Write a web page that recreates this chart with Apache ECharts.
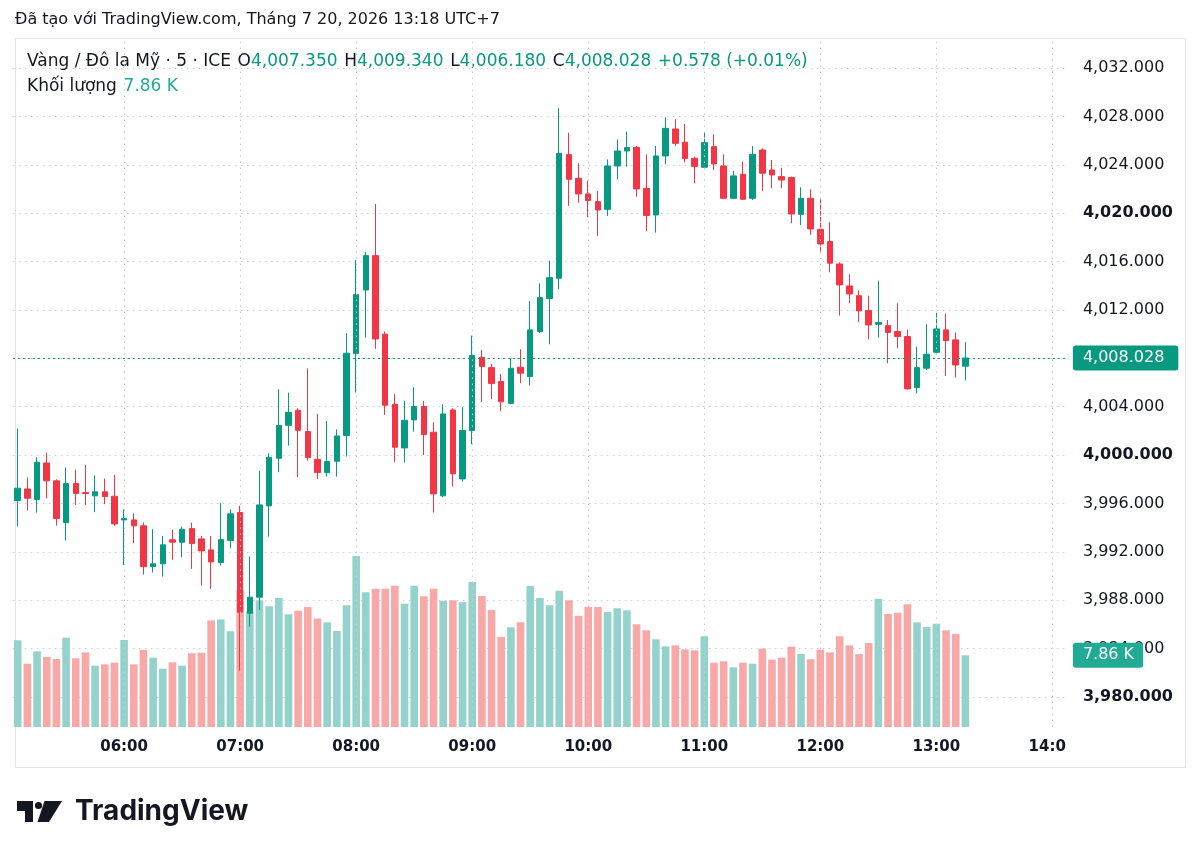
<!DOCTYPE html>
<html>
<head>
<meta charset="utf-8">
<title>Vàng / Đô la Mỹ · 5 · ICE</title>
<script src="https://cdn.jsdelivr.net/npm/echarts@6/dist/echarts.min.js"></script>
<style>
  html, body { margin: 0; padding: 0; background: #fff; }
  #chart { width: 1200px; height: 857px; }
</style>
</head>
<body>
<div id="chart"></div>
<script>
// 5 minute candles, 05:05 .. 13:15
const opens = [
  3996.24, 3997.2, 3996.32, 3999.35, 3997.87, 3994.42, 3997.65, 3996.9, 3996.63, 3996.96,
  3996.6, 3994.64, 3994.64, 3994.15, 3990.78, 3991.01, 3992.99, 3992.79, 3993.92, 3993.07,
  3992.16, 3991.11, 3992.93, 3995.25, 3986.93, 3988.25, 3995.8, 3999.74, 4002.46, 4003.7,
  4001.94, 3999.65, 3998.55, 3999.49, 4001.61, 4008.39, 4013.65, 4016.49, 4009.99, 4004.2,
  4000.59, 4002.91, 4004.01, 4001.89, 3996.63, 4003.73, 3998.03, 4002.03, 4008.09, 4007.23,
  4006.08, 4004.28, 4007.26, 4006.49, 4010.21, 4012.94, 4014.62, 4024.84, 4022.88, 4021.59,
  4020.95, 4020.32, 4023.9, 4025.14, 4025.44, 4022.05, 4019.85, 4024.73, 4026.96, 4025.86,
  4024.53, 4023.79, 4025.5, 4023.9, 4021.23, 4023.21, 4021.23, 4025.22, 4023.57, 4023.02,
  4022.94, 4019.9, 4021.23, 4018.67, 4017.65, 4015.8, 4013.98, 4013.18, 4011.94, 4010.81,
  4010.7, 4010.21, 4009.8, 4005.58, 4007.18, 4008.5, 4010.35, 4009.52, 4007.35
];
const closes = [
  3997.26, 3996.43, 3999.41, 3997.87, 3994.75, 3997.65, 3996.82, 3996.82, 3996.96, 3996.57,
  3994.31, 3994.75, 3994.15, 3990.78, 3991.01, 3992.58, 3992.8, 3993.87, 3992.68, 3992.08,
  3991.17, 3993.01, 3995.14, 3987.01, 3988.25, 3995.88, 3999.82, 4002.44, 4003.54, 4002.05,
  3999.79, 3998.55, 3999.46, 4001.58, 4008.42, 4013.27, 4016.49, 4009.6, 4004.12, 4000.65,
  4002.88, 4004.01, 4001.69, 3996.79, 4003.4, 3998.45, 4002.03, 4008.23, 4007.32, 4005.91,
  4004.4, 4007.18, 4006.77, 4010.35, 4013.02, 4014.67, 4024.95, 4022.8, 4021.59, 4021.04,
  4020.26, 4023.9, 4025.14, 4025.42, 4022.0, 4019.8, 4024.73, 4027.01, 4025.77, 4024.51,
  4023.85, 4025.83, 4024.07, 4021.23, 4023.08, 4021.15, 4024.87, 4023.3, 4023.16, 4022.74,
  4019.93, 4021.23, 4018.69, 4017.45, 4015.86, 4014.07, 4013.32, 4011.92, 4010.76, 4010.95,
  4010.13, 4009.8, 4005.47, 4007.23, 4008.34, 4010.43, 4009.46, 4007.45, 4008.028
];
const lows = [
  3994.1, 3995.41, 3995.25, 3996.43, 3994.17, 3992.93, 3995.88, 3995.88, 3995.28, 3995.94,
  3994.15, 3990.92, 3992.71, 3990.12, 3990.29, 3989.96, 3991.34, 3991.55, 3990.59, 3989.21,
  3988.94, 3990.87, 3992.3, 3982.19, 3985.82, 3987.2, 3993.26, 3998.58, 4000.78, 3998.17,
  3999.54, 3998.03, 3998.22, 3998.22, 3999.88, 4005.17, 4009.71, 4008.78, 4003.32, 3999.44,
  3999.38, 4001.94, 4000.01, 3995.25, 3996.52, 3997.4, 3997.81, 4000.9, 4004.37, 4004.62,
  4003.65, 4004.2, 4005.94, 4005.74, 4010.1, 4009.16, 4013.71, 4020.6, 4020.87, 4019.66,
  4018.12, 4019.77, 4022.8, 4023.84, 4021.37, 4018.53, 4018.39, 4024.04, 4025.55, 4024.2,
  4022.47, 4023.63, 4023.57, 4021.15, 4021.15, 4021.1, 4021.09, 4021.84, 4022.06, 4022.06,
  4019.16, 4019.02, 4018.2, 4016.68, 4015.11, 4011.53, 4012.55, 4010.98, 4009.58, 4009.71,
  4007.59, 4008.83, 4005.44, 4005.11, 4007.04, 4008.42, 4006.54, 4006.4, 4006.18
];
const highs = [
  4002.2, 3998.14, 3999.82, 4000.21, 3998.0, 3998.97, 3998.8, 3999.19, 3998.33, 3998.06,
  3998.36, 3995.52, 3995.19, 3994.42, 3993.87, 3993.32, 3993.81, 3994.09, 3994.42, 3993.32,
  3993.32, 3996.02, 3995.52, 3995.8, 3991.61, 3998.69, 4000.15, 4005.44, 4005.16, 4003.87,
  4007.17, 4003.4, 4002.82, 4002.13, 4010.07, 4016.13, 4016.8, 4020.76, 4010.21, 4005.03,
  4004.5, 4005.61, 4004.48, 4002.72, 4004.2, 4003.87, 4003.95, 4009.88, 4008.69, 4007.54,
  4006.71, 4008.0, 4008.75, 4012.74, 4014.2, 4016.08, 4028.67, 4026.65, 4024.12, 4022.69,
  4021.83, 4024.45, 4026.1, 4026.74, 4025.55, 4024.86, 4025.55, 4027.92, 4027.76, 4027.37,
  4024.67, 4026.66, 4026.52, 4024.87, 4023.49, 4024.26, 4025.55, 4025.36, 4024.4, 4023.76,
  4023.02, 4022.14, 4021.97, 4021.15, 4019.25, 4015.94, 4014.95, 4013.6, 4013.18, 4014.42,
  4011.17, 4012.55, 4010.35, 4008.97, 4010.81, 4011.78, 4011.67, 4010.13, 4009.34
];
// volume, thousands
const volumes = [
  9.50, 6.94, 8.29, 7.67, 7.45, 9.79, 7.53, 8.18, 6.72, 6.87,
  7.05, 9.54, 6.87, 8.44, 7.60, 6.39, 7.09, 6.72, 8.08, 8.15,
  11.69, 11.77, 10.49, 14.98, 12.68, 13.89, 13.23, 14.14, 12.35, 12.75,
  13.15, 11.88, 11.47, 10.52, 13.34, 18.75, 14.76, 15.16, 15.16, 15.49,
  13.52, 15.49, 14.32, 15.16, 13.81, 13.89, 13.67, 15.89, 14.36, 12.83,
  9.87, 10.93, 11.47, 15.46, 14.14, 13.34, 14.94, 13.89, 12.2, 13.15,
  13.15, 12.61, 13.01, 12.79, 11.25, 10.6, 9.61, 8.84, 8.95, 8.51,
  8.4, 9.94, 7.05, 7.2, 6.54, 7.05, 6.94, 8.59, 7.38, 7.6,
  8.81, 8.0, 7.42, 8.48, 8.18, 9.94, 8.95, 8.0, 9.21, 14.07,
  12.39, 12.53, 13.45, 11.47, 10.96, 11.33, 10.6, 10.19, 7.86
];
const hourTicks = ['06:00', '07:00', '08:00', '09:00', '10:00', '11:00', '12:00', '13:00', '14:00'];
const priceTicks = { min: 3980, max: 4032, step: 4 };

// time slots run on past the last candle to 14:05
const times = [];
for (let m = 5 * 60 + 5; m <= 14 * 60 + 5; m += 5) {
  times.push(String(Math.floor(m / 60)).padStart(2, '0') + ':' + String(m % 60).padStart(2, '0'));
}

const UP = '#089981', DOWN = '#f23645';
const UP_VOL = '#94d2cc', DOWN_VOL = '#f7a8a7';
const TXT = '#131722';
const GRID = '#c8ccd4';
const FONT = '"DejaVu Sans", sans-serif';

const fmt = v => v.toLocaleString('en-US', { minimumFractionDigits: 3, maximumFractionDigits: 3 });

const candles = opens.map((o, i) => [o, closes[i], lows[i], highs[i]]);
const last = candles.length - 1;
const lastClose = closes[last];
const change = lastClose - closes[last - 1];
const pct = change / closes[last - 1] * 100;
const sign = change >= 0 ? '+' : '';

const chart = echarts.init(document.getElementById('chart'), null, { renderer: 'canvas' });

chart.setOption({
  animation: false,
  backgroundColor: '#fff',
  grid: [
    { left: 12.9, width: 1054, top: 68, height: 629 },   // price
    { left: 12.9, width: 1054, top: 40, height: 687 }    // volume + time axis
  ],
  xAxis: [
    { type: 'category', gridIndex: 0, data: times, boundaryGap: true, show: false },
    {
      type: 'category', gridIndex: 1, data: times, boundaryGap: true,
      axisLine: { show: false }, axisTick: { show: false }, splitLine: { show: false },
      axisLabel: {
        margin: 13, color: TXT, fontSize: 15, fontWeight: 'bold', fontFamily: FONT,
        interval: (i, v) => hourTicks.indexOf(v) >= 0
      }
    }
  ],
  yAxis: [
    {
      type: 'value', gridIndex: 0, position: 'right',
      min: priceTicks.min, max: priceTicks.max, interval: priceTicks.step,
      axisLine: { show: false }, axisTick: { show: false },
      splitLine: { show: true, lineStyle: { color: GRID, type: [1.5, 4.5], width: 1 } },
      axisLabel: {
        margin: 16, color: TXT, fontSize: 16, fontFamily: FONT,
        formatter: v => (v % 20 === 0 ? '{b|' + fmt(v) + '}' : fmt(v)),
        rich: { b: { fontWeight: 'bold', fontSize: 16, color: TXT, fontFamily: FONT } }
      }
    },
    { type: 'value', gridIndex: 1, min: 0, max: 75.3, show: false, splitLine: { show: false } }
  ],
  series: [
    {
      name: 'Khối lượng', type: 'bar', xAxisIndex: 1, yAxisIndex: 1, z: 2,
      barWidth: 7.6,
      data: volumes.map((v, i) => ({
        value: v,
        itemStyle: { color: closes[i] >= opens[i] ? UP_VOL : DOWN_VOL }
      })),
      markLine: {
        silent: true, symbol: ['none', 'none'], animation: false,
        data: hourTicks.map(t => ({
          xAxis: t, label: { show: false },
          lineStyle: { color: GRID, type: [1.5, 4.5], width: 1 }
        })).concat([{
          yAxis: volumes[last],
          lineStyle: { color: 'rgba(255,255,255,0)', width: 1 },
          label: {
            show: true, position: 'end', distance: 6,
            formatter: volumes[last].toFixed(2) + ' K',
            backgroundColor: '#22ab94', color: '#fff', borderRadius: 3,
            padding: [5, 9, 4, 10], fontSize: 16, fontFamily: FONT
          }
        }])
      }
    },
    {
      name: 'Vàng / Đô la Mỹ', type: 'candlestick', xAxisIndex: 0, yAxisIndex: 0, z: 3,
      barWidth: 6,
      data: candles,
      itemStyle: { color: UP, color0: DOWN, borderColor: UP, borderColor0: DOWN, borderWidth: 1 },
      markLine: {
        silent: true, symbol: ['none', 'none'], animation: false,
        data: [{ yAxis: lastClose }],
        lineStyle: { color: UP, type: [2, 3], width: 1 },
        label: {
          show: true, position: 'end', distance: 6,
          formatter: fmt(lastClose),
          backgroundColor: UP, color: '#fff', borderRadius: 3,
          padding: [5, 14, 4, 10], fontSize: 16, fontFamily: FONT
        }
      }
    }
  ],
  graphic: [
    // chart frame
    { type: 'rect', z: 0, shape: { x: 15.5, y: 38.5, width: 1170, height: 729 },
      style: { fill: 'none', stroke: '#e0e3eb', lineWidth: 1 }, silent: true },
    // price scale clips the 14:00 label
    { type: 'rect', z: 100, shape: { x: 1066, y: 736, width: 100, height: 26 },
      style: { fill: '#fff' }, silent: true },
    { type: 'text', left: 15, top: 12, silent: true,
      style: { text: 'Đã tạo với TradingView.com, Tháng 7 20, 2026 13:18 UTC+7',
        font: '16px ' + FONT, fill: TXT } },
    { type: 'text', left: 27, top: 53, silent: true,
      style: {
        text: '{n|Vàng / Đô la Mỹ · 5 · ICE}  {n|O}{v|' + fmt(opens[last]) + '}  {n|H}{v|' + fmt(highs[last]) +
          '}  {n|L}{v|' + fmt(lows[last]) + '}  {n|C}{v|' + fmt(lastClose) + '}  {v|' + sign + change.toFixed(3) +
          ' (' + sign + pct.toFixed(2) + '%)}',
        rich: {
          n: { fontSize: 17, fontFamily: FONT, fill: TXT },
          v: { fontSize: 17, fontFamily: FONT, fill: UP }
        }
      } },
    { type: 'text', left: 27, top: 78, silent: true,
      style: {
        text: '{n|Khối lượng}  {v|' + volumes[last].toFixed(2) + ' K}',
        rich: {
          n: { fontSize: 17, fontFamily: FONT, fill: TXT },
          v: { fontSize: 17, fontFamily: FONT, fill: '#22ab94' }
        }
      } },
    // TradingView logo
    { type: 'group', silent: true, children: [
      { type: 'rect', shape: { x: 17, y: 801, width: 16, height: 10 }, style: { fill: TXT } },
      { type: 'rect', shape: { x: 25, y: 801, width: 8, height: 21 }, style: { fill: TXT } },
      { type: 'circle', shape: { cx: 38.5, cy: 805.5, r: 3.6 }, style: { fill: TXT } },
      { type: 'polygon', shape: { points: [[44.5, 801], [62, 801], [49, 822], [37.5, 822]] }, style: { fill: TXT } },
      { type: 'text', style: { x: 75, y: 812, text: 'TradingView', font: 'bold 28px Inter, sans-serif',
        fill: TXT, verticalAlign: 'middle' } }
    ] }
  ]
});
</script>
</body>
</html>
